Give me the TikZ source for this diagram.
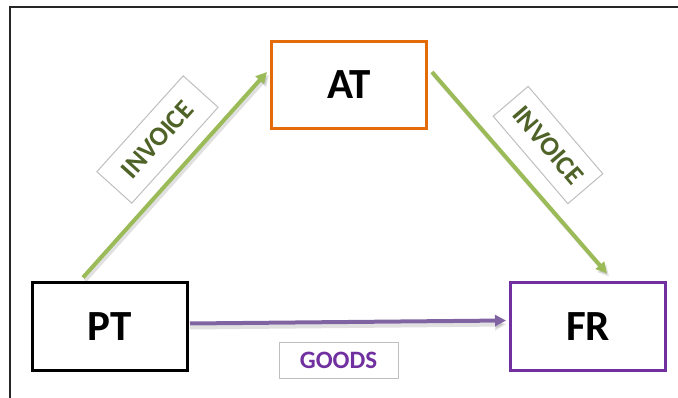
\documentclass[tikz,border=0pt]{standalone}
\usepackage{fontspec}
\setmainfont{Carlito}
\usetikzlibrary{arrows.meta,calc}
\definecolor{atorange}{HTML}{E36C09}
\definecolor{frpurple}{HTML}{7030A0}
\definecolor{linegreen}{HTML}{9BBB59}
\definecolor{textgreen}{HTML}{4F6228}
\definecolor{linepurple}{HTML}{8064A2}
\definecolor{labelgray}{HTML}{BFBFBF}
\tikzset{
  partybox/.style={draw, line width=3pt, minimum width=155pt, minimum height=87pt, inner sep=0pt, font=\fontsize{43}{47}\selectfont\bfseries, text=black},
  labelbox/.style={draw=labelgray, line width=1pt, fill=white, inner sep=0pt, font=\bfseries},
  flow/.style={line width=4pt, -{Triangle[length=11pt,width=11pt]}},
  shadowline/.style={line width=4pt, black, opacity=0.12, -{Triangle[length=11pt,width=11pt]}}
}
\begin{document}
\begin{tikzpicture}[x=1pt,y=-1pt]
\useasboundingbox (0,0) rectangle (678,398);
% frame
\draw[line width=2pt, black!85] (9.5,398) -- (9.5,7.5) -- (678,7.5);
% boxes
\node[partybox, draw=atorange] (AT) at (349,85) {AT};
\node[partybox, draw=black] (PT) at (110,326.5) {PT};
\node[partybox, draw=frpurple] (FR) at (588,326.5) {FR};
% connector end points
\coordinate (ptA) at ($(PT.north west)+(52,-4)$);
\coordinate (atA) at ($(AT.west)+(-3,-13)$);
\coordinate (atB) at ($(AT.east)+(4,-13)$);
\coordinate (frB) at ($(FR.north west)+(98,-8)$);
\coordinate (ptC) at ($(PT.east)+(1,-3)$);
\coordinate (frC) at ($(FR.west)+(-3,-6)$);
% shadows
\draw[shadowline] ($(ptA)+(2,3)$) -- ($(atA)+(2,3)$);
\draw[shadowline] ($(atB)+(2,3)$) -- ($(frB)+(2,3)$);
\draw[shadowline] ($(ptC)+(0,4)$) -- ($(frC)+(0,4)$);
% connectors
\draw[flow, linegreen] (ptA) -- (atA);
\draw[flow, linegreen] (atB) -- (frB);
\draw[flow, linepurple] (ptC) -- (frC);
% labels
\node[labelbox, text=textgreen, rotate=48, minimum width=129pt, minimum height=47pt, font=\fontsize{27}{30}\selectfont\bfseries] (inv1) at (157.5,139.5) {INVOICE};
\node[labelbox, text=textgreen, rotate=-49.5, minimum width=115pt, minimum height=46pt, font=\fontsize{27}{30}\selectfont\bfseries] (inv2) at (548,145) {INVOICE};
\node[labelbox, text=frpurple, minimum width=119pt, minimum height=35pt, font=\fontsize{25}{28}\selectfont\bfseries] (goods) at (338.5,360.5) {GOODS};
\end{tikzpicture}
\end{document}
